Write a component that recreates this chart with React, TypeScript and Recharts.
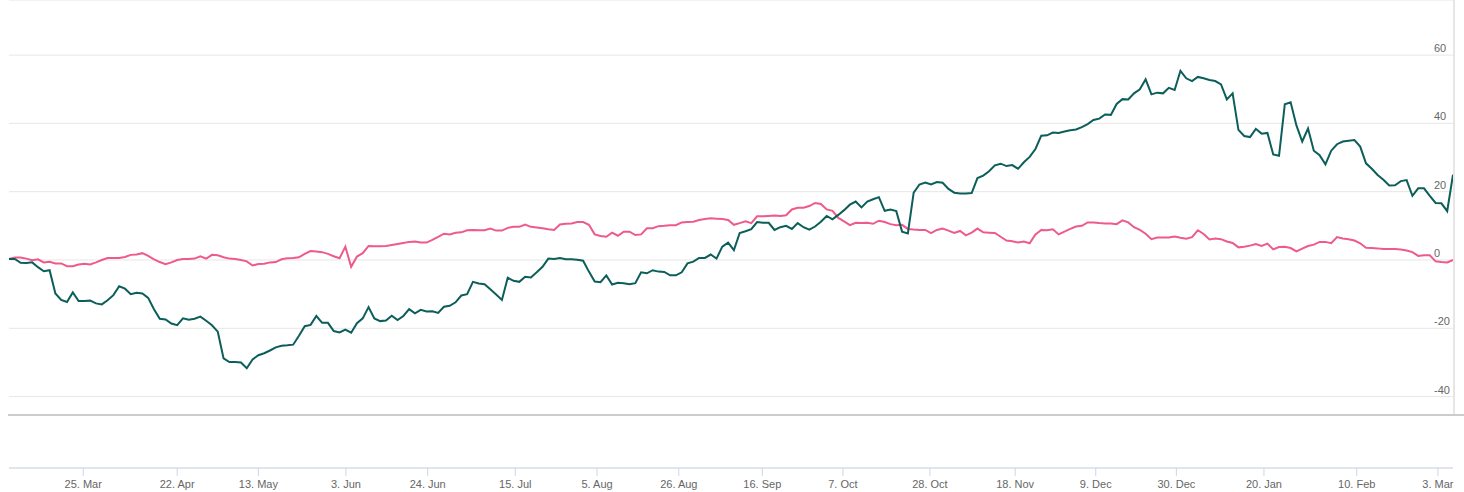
import React from 'react';
import { LineChart, Line, XAxis, YAxis, CartesianGrid } from 'recharts';

const tickIndex = [12.8, 29.0, 43.0, 58.1, 72.2, 87.3, 101.4, 115.5, 129.9, 143.8, 158.8, 173.5, 187.4, 201.3, 216.4, 232.4, 246.4];
const tickLabels = ['25. Mar', '22. Apr', '13. May', '3. Jun', '24. Jun', '15. Jul', '5. Aug', '26. Aug', '16. Sep', '7. Oct', '28. Oct', '18. Nov', '9. Dec', '30. Dec', '20. Jan', '10. Feb', '3. Mar'];
const yTicks = [-40, -20, 0, 20, 40, 60];

const greenValues = [
  0.3, 0.3, -0.8, -0.9, -0.7, -2.1, -3.3, -3.0, -9.8, -11.7, -12.3, -9.5, -12.0, -12.0, -11.9, -12.7, -13.0, -11.8, -10.3, -7.7, -8.4, -10.0, -9.6, -9.8, -11.1, -14.4, -17.2, -17.4, -18.6, -19.1, -17.1, -17.5, -17.2, -16.6, -17.8, -19.1, -21.0, -28.8, -29.9, -29.9, -30.0, -31.7, -29.1, -27.9, -27.3, -26.5, -25.6, -25.1, -25.0, -24.8, -22.2,
  -19.4, -19.0, -16.4, -18.4, -18.4, -20.8, -21.2, -20.4, -21.3, -18.5, -17.1, -13.8, -17.1, -17.9, -17.7, -16.3, -17.6, -16.4, -14.4, -15.6, -14.6, -15.1, -15.0, -15.5, -13.7, -13.4, -12.4, -10.4, -10.0, -6.4, -6.9, -7.1, -8.6, -10.1, -11.7, -5.2, -6.1, -6.4, -4.9, -5.1, -3.6, -2.0, 0.4, 0.3, 0.6, 0.2, 0.2, 0.1, -0.2, -3.4, -6.3,
  -6.5, -4.5, -7.2, -6.7, -6.8, -7.1, -6.8, -3.6, -3.9, -3.0, -3.4, -3.5, -4.5, -4.5, -3.6, -1.0, -0.5, 0.6, 0.6, 1.6, 0.4, 3.9, 5.1, 2.9, 7.9, 8.4, 9.0, 11.1, 10.9, 10.9, 8.8, 9.6, 10.0, 9.1, 10.8, 9.6, 8.9, 9.8, 11.2, 12.9, 11.9, 13.2, 14.6, 16.2, 17.1, 15.4, 17.1, 17.8, 18.4, 14.4, 14.8,
  14.3, 8.3, 7.8, 19.7, 22.1, 22.7, 22.1, 22.8, 22.6, 20.8, 19.7, 19.5, 19.5, 19.6, 24.0, 24.7, 26.0, 27.7, 28.2, 27.5, 27.8, 26.7, 28.6, 30.2, 32.5, 36.4, 36.5, 37.3, 37.2, 37.6, 38.0, 38.2, 38.9, 39.8, 41.0, 41.4, 42.6, 42.5, 45.7, 47.1, 47.0, 48.8, 50.0, 52.9, 48.5, 49.0, 48.8, 50.4, 49.8, 55.4, 53.2,
  52.4, 53.6, 53.2, 52.7, 52.4, 51.4, 47.0, 48.8, 38.1, 36.3, 36.0, 38.4, 37.0, 37.2, 30.9, 30.5, 45.6, 46.2, 39.4, 34.7, 38.5, 32.0, 30.7, 28.0, 32.0, 33.9, 34.7, 34.9, 35.1, 33.2, 28.3, 26.7, 24.9, 23.5, 21.8, 21.9, 23.1, 23.4, 18.8, 21.0, 21.0, 18.8, 16.7, 16.6, 14.3, 25.0,
];

const pinkValues = [
  0.3, 0.7, 0.7, 0.4, -0.1, 0.2, -0.7, -0.5, -1.0, -1.0, -1.8, -1.8, -1.3, -1.1, -1.3, -0.7, 0.0, 0.6, 0.6, 0.6, 0.9, 1.5, 1.6, 2.0, 1.2, 0.2, -0.6, -1.2, -0.7, 0.0, 0.3, 0.3, 0.4, 1.1, 0.4, 1.5, 1.4, 0.8, 0.4, 0.3, 0.0, -0.4, -1.6, -1.2, -1.1, -0.7, -0.6, 0.2, 0.5, 0.6, 0.8,
  1.8, 2.6, 2.5, 2.3, 1.8, 1.1, 0.5, 3.9, -2.0, 1.0, 2.0, 4.1, 4.0, 4.0, 4.1, 4.4, 4.7, 5.0, 5.3, 5.4, 5.1, 5.1, 5.9, 6.8, 7.7, 7.5, 8.0, 8.1, 8.7, 8.8, 8.7, 8.7, 9.2, 8.6, 8.6, 9.4, 9.7, 9.7, 10.4, 9.7, 9.5, 9.3, 9.0, 8.8, 10.4, 10.6, 10.7, 11.1, 11.1, 10.3, 7.5,
  7.0, 6.8, 8.0, 7.1, 8.3, 8.3, 7.3, 7.5, 9.3, 9.3, 9.9, 10.0, 10.2, 10.2, 11.0, 11.1, 11.2, 11.7, 12.0, 12.2, 12.1, 12.0, 11.7, 10.3, 10.8, 11.3, 10.8, 12.8, 12.8, 12.9, 13.0, 12.9, 13.1, 14.8, 15.3, 15.3, 15.8, 16.7, 16.4, 14.8, 14.4, 12.3, 11.3, 10.2, 10.9, 10.8, 10.9, 10.6, 11.5, 11.1, 10.5,
  10.2, 10.3, 9.1, 8.9, 8.8, 8.8, 7.9, 8.8, 9.2, 8.6, 7.9, 8.5, 7.2, 8.0, 9.2, 8.1, 8.0, 7.9, 6.8, 5.7, 5.5, 5.1, 5.4, 4.9, 7.5, 8.8, 8.7, 9.0, 7.5, 8.3, 9.1, 9.8, 10.0, 11.0, 11.0, 10.8, 10.7, 10.7, 10.5, 11.6, 11.0, 9.6, 8.8, 7.7, 6.1, 6.6, 6.6, 6.6, 6.9, 6.5, 6.2,
  6.7, 8.7, 7.6, 6.0, 6.3, 6.1, 5.4, 5.0, 3.7, 3.9, 4.2, 4.7, 4.1, 4.8, 3.1, 3.8, 3.9, 3.5, 2.5, 3.3, 4.1, 4.5, 5.3, 5.3, 4.9, 6.7, 6.3, 6.1, 5.7, 4.9, 3.6, 3.5, 3.4, 3.2, 3.2, 3.2, 3.1, 2.8, 2.3, 1.2, 1.4, 1.4, -0.4, -0.6, -0.7, 0.0,
];

const data = greenValues.map((g, i) => ({ i, green: g, pink: pinkValues[i] }));

const FONT = '"Liberation Sans", Arial, Helvetica, sans-serif';

const renderYTick = (props: any) => {
  const { x, y, payload } = props;
  return (
    <text key={`yt-${payload.value}`} x={x - 19} y={y - 3} textAnchor="start" fill="#666666" fontSize={11} fontFamily={FONT}>
      {payload.value}
    </text>
  );
};

const fmtX = (v: number) => {
  const k = tickIndex.indexOf(v);
  return k >= 0 ? tickLabels[k] : '';
};

export default function App() {
  return (
    <div style={{ position: 'absolute', left: 0, top: 0, width: 1464, height: 492, background: '#ffffff' }}>
      <LineChart width={1464} height={492} data={data} margin={{ top: 0, right: 10, left: 9, bottom: 0 }}>
        <CartesianGrid vertical={false} stroke="#e6e6e6" />
        <XAxis
          dataKey="i"
          type="number"
          domain={[0, 249]}
          ticks={tickIndex}
          tickFormatter={fmtX}
          interval={0}
          height={24}
          axisLine={{ stroke: '#ccd6eb' }}
          tickLine={{ stroke: '#ccd6eb' }}
          tickSize={8}
          tickMargin={4}
          tick={{ fill: '#666666', fontSize: 11, fontFamily: FONT }}
        />
        <YAxis
          orientation="right"
          width={1}
          type="number"
          domain={[-60.91, 76.13]}
          ticks={yTicks}
          interval={0}
          axisLine={false}
          tickLine={false}
          tickSize={0}
          tickMargin={0}
          tick={renderYTick}
        />
        <Line type="linear" dataKey="pink" stroke="#ee5a8c" strokeWidth={2} dot={false} isAnimationActive={false} />
        <Line type="linear" dataKey="green" stroke="#0b5e5a" strokeWidth={2} dot={false} isAnimationActive={false} />
      </LineChart>
      <div style={{ position: 'absolute', left: 8, top: 414, width: 1456, height: 2, background: '#cccccc' }} />
      <div style={{ position: 'absolute', left: 1453, top: 0, width: 2, height: 414, background: '#e6e6e6' }} />
    </div>
  );
}
